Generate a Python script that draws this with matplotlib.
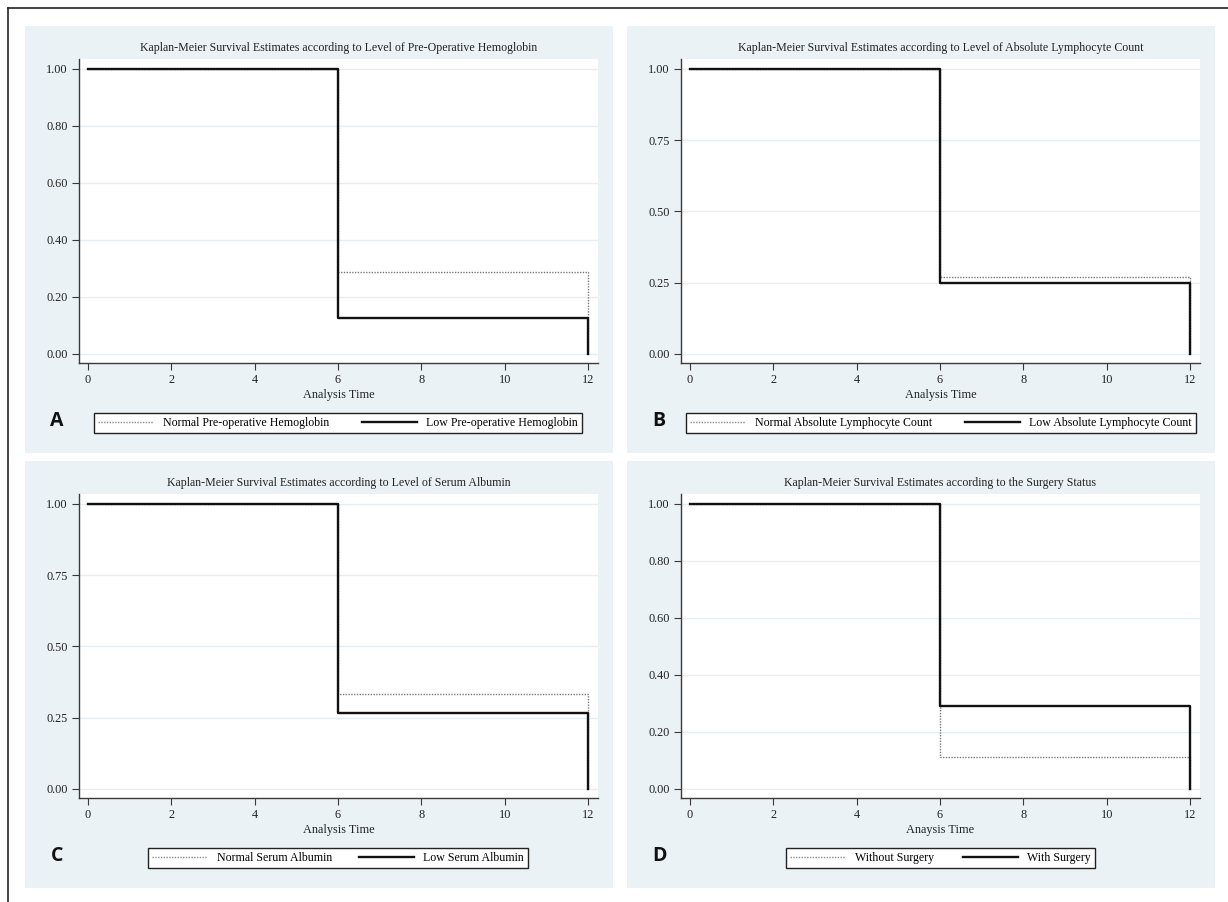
import numpy as np
import matplotlib.pyplot as plt
from matplotlib.patches import Rectangle
from matplotlib.lines import Line2D

W, H = 1228, 902

# data
time_points = [0, 6, 12]

surv_a_normal = [1.0, 0.286, 0.0]
surv_a_low = [1.0, 0.125, 0.0]
surv_b_normal = [1.0, 0.271, 0.0]
surv_b_low = [1.0, 0.25, 0.0]
surv_c_normal = [1.0, 0.334, 0.0]
surv_c_low = [1.0, 0.266, 0.0]
surv_d_without = [1.0, 0.112, 0.0]
surv_d_with = [1.0, 0.29, 0.0]

titles = [
    "Kaplan-Meier Survival Estimates according to Level of Pre-Operative Hemoglobin",
    "Kaplan-Meier Survival Estimates according to Level of Absolute Lymphocyte Count",
    "Kaplan-Meier Survival Estimates according to Level of Serum Albumin",
    "Kaplan-Meier Survival Estimates according to the Surgery Status",
]
dotted_labels = ["Normal Pre-operative Hemoglobin", "Normal Absolute Lymphocyte Count",
                 "Normal Serum Albumin", "Without Surgery"]
solid_labels = ["Low Pre-operative Hemoglobin", "Low Absolute Lymphocyte Count",
                "Low Serum Albumin", "With Surgery"]
xlabels = ["Analysis Time", "Analysis Time", "Analysis Time", "Anaysis Time"]
panel_letters = ["A", "B", "C", "D"]
yticks_fifths = [0.0, 0.2, 0.4, 0.6, 0.8, 1.0]
yticks_quarters = [0.0, 0.25, 0.5, 0.75, 1.0]
xticks = [0, 2, 4, 6, 8, 10, 12]

dotted_series = [surv_a_normal, surv_b_normal, surv_c_normal, surv_d_without]
solid_series = [surv_a_low, surv_b_low, surv_c_low, surv_d_with]
panel_yticks = [yticks_fifths, yticks_quarters, yticks_quarters, yticks_fifths]

# legend boxes (x0, x1) in pixels, per panel
legend_x = [(94, 582), (686, 1196), (148, 528), (786, 1095)]

plt.rcParams['font.family'] = ['Liberation Serif', 'DejaVu Serif']

BG = '#eaf2f5'
GRID = '#e3eef3'
SPINE = '#3a3a3a'


def fx(x):
    return x / W


def fy(y):
    return 1 - y / H


fig = plt.figure(figsize=(W / 100, H / 100), dpi=100)
fig.patch.set_facecolor('white')

# outer frame (top and left only)
fig.add_artist(Line2D([fx(8), 1.0], [fy(7.5), fy(7.5)], color='#222222', lw=1.2))
fig.add_artist(Line2D([fx(8), fx(8)], [fy(7.5), 0.0], color='#222222', lw=1.2))

for i in range(4):
    dx = 602 * (i % 2)
    dy = 435 * (i // 2)

    # panel background
    fig.add_artist(Rectangle((fx(25 + dx), fy(453 + dy)), 588 / W, 427 / H,
                             transform=fig.transFigure, facecolor=BG,
                             edgecolor='none', zorder=0))

    ax = fig.add_axes([fx(79 + dx), fy(363 + dy), (598 - 79) / W, (363 - 59) / H])
    ax.set_facecolor('white')
    ax.set_xlim(-0.216, 12.24)
    ax.set_ylim(-0.032, 1.035)

    ax.step(time_points, dotted_series[i], where='post', color='#7a7a7a',
            lw=1.0, linestyle=(0, (1, 1)), zorder=3)
    ax.step(time_points, solid_series[i], where='post', color='#111111',
            lw=1.7, zorder=4)

    ax.set_yticks(panel_yticks[i])
    ax.set_yticklabels([f"{v:.2f}" for v in panel_yticks[i]])
    ax.set_xticks(xticks)
    ax.grid(axis='y', color=GRID, lw=1.0)
    ax.set_axisbelow(True)

    for side in ['top', 'right']:
        ax.spines[side].set_visible(False)
    for side in ['left', 'bottom']:
        ax.spines[side].set_color(SPINE)
        ax.spines[side].set_linewidth(1.0)

    ax.tick_params(axis='both', colors=SPINE, length=5, width=0.8,
                   labelsize=8.8, labelcolor='#222222', pad=3)
    ax.set_title(titles[i], fontsize=8.6, color='#222222', pad=6)
    ax.set_xlabel(xlabels[i], fontsize=8.8, color='#222222', labelpad=2)

    # legend
    x0, x1 = legend_x[i]
    handles = [
        Line2D([], [], color='#8a8a8a', lw=1.0, linestyle=(0, (1, 1))),
        Line2D([], [], color='#111111', lw=1.7),
    ]
    fig.legend(handles, [dotted_labels[i], solid_labels[i]], ncol=2,
               loc='lower left', mode='expand',
               bbox_to_anchor=(fx(x0), fy(433 + dy), (x1 - x0) / W, (433 - 406) / H),
               bbox_transform=fig.transFigure,
               fontsize=8.6, frameon=True, fancybox=False, framealpha=1,
               edgecolor='#222222', handlelength=4.6, handletextpad=0.8,
               borderpad=0.35, borderaxespad=0)

    fig.text(fx(57 + dx), fy(421 + dy), panel_letters[i], fontsize=14,
             fontweight='bold', family=['Open Sans', 'DejaVu Sans'],
             color='#111111', ha='center', va='center')

fig.savefig('out.png', dpi=100, facecolor='white')
